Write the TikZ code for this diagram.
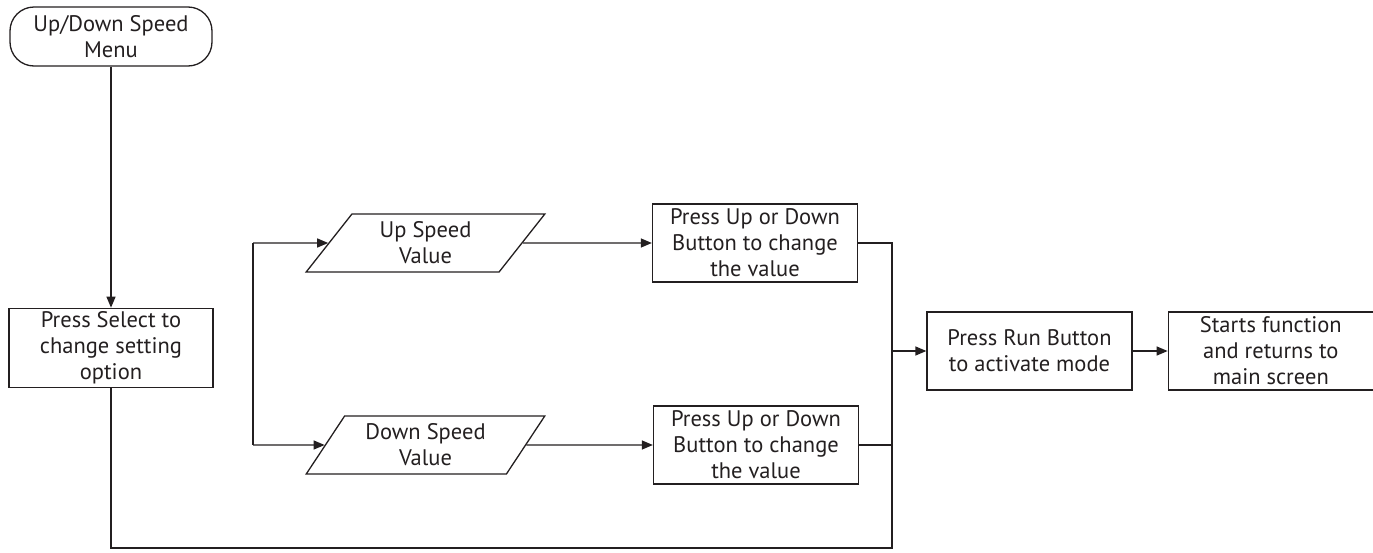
\documentclass[tikz,border=0pt]{standalone}
\usepackage{fontspec}
\setmainfont{PT Sans}
\usetikzlibrary{arrows.meta,positioning,shapes.geometric}
\definecolor{ink}{HTML}{231F20}

\begin{document}
\begin{tikzpicture}[
  x=1pt,y=-1pt,
  line width=1.3pt,
  font=\fontsize{22.5}{26}\selectfont,
  box/.style={draw=ink,text=ink,minimum width=205pt,minimum height=78pt,inner sep=0pt,align=center},
  term/.style={box,rounded corners=24pt,minimum width=202pt,minimum height=59pt},
  para/.style={draw=ink,text=ink,trapezium,trapezium left angle=56,trapezium right angle=124,trapezium stretches=true,minimum width=239pt,minimum height=58pt,inner sep=0pt,align=center},
  arrow/.style={-{Triangle[length=11pt,width=9pt]},draw=ink},
  line/.style={draw=ink}
]
\useasboundingbox (0,0) rectangle (1373,552);
\node[term] (menu) at (111,36.5) {Up/Down Speed\\Menu};
\node[box,below=241pt of menu,minimum width=204pt,minimum height=79pt] (select) {Press Select to\\change setting\\option};
\node[para] (upval) at (425.5,243) {Up Speed\\Value};
\node[para] (downval) at (425.5,445) {Down Speed\\Value};
\node[box] (upbtn) at (755,243) {Press Up or Down\\Button to change\\the value};
\node[box] (downbtn) at (756,445) {Press Up or Down\\Button to change\\the value};
\node[box] (run) at (1029.5,351) {Press Run Button\\to activate mode};
\node[box,right=35pt of run] (starts) {Starts function\\and returns to\\main screen};
\coordinate (fork) at (253,344);
\coordinate (join) at (892,351);
\coordinate (bend) at (892,548);
\draw[arrow] (menu) -- (select);
\draw[line] (fork |- upval) -- (fork |- downval);
\draw[arrow] (fork |- upval) -- (upval);
\draw[arrow] (fork |- downval) -- (downval);
\draw[arrow] (upval) -- (upbtn);
\draw[arrow] (downval) -- (downbtn);
\draw[line] (select.south) |- (bend) -- (join |- upbtn) -- (upbtn.east);
\draw[line] (downbtn.east) -- (join |- downbtn);
\draw[arrow] (join) -- (run);
\draw[arrow] (run) -- (starts);
\end{tikzpicture}
\end{document}
